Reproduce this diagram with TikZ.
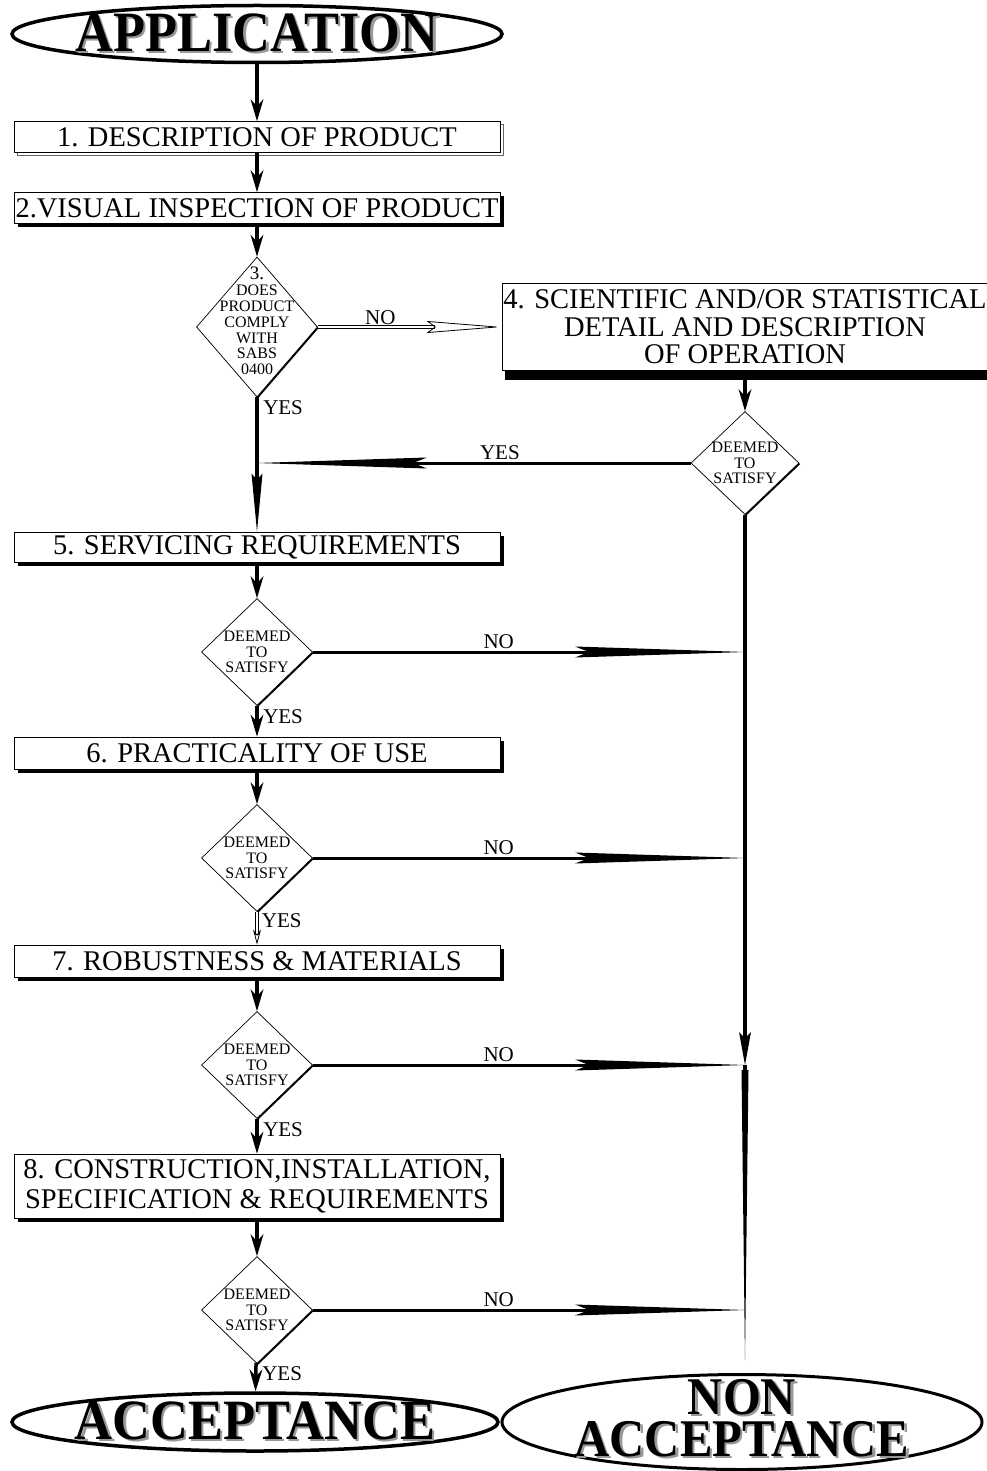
\documentclass[tikz,border=0pt]{standalone}
\usepackage{fontspec}
\setmainfont{Liberation Serif}
\usetikzlibrary{shapes.geometric,arrows.meta,shadows}
\newcommand{\shtxt}[1]{\rlap{\hspace{2.5pt}\raisebox{-2.5pt}{\color{black!40}#1}}#1}
\newcommand{\bigtxt}[1]{\scalebox{0.92}[1]{\shtxt{#1}}}

\begin{document}
\begin{tikzpicture}[x=1pt, y=-1pt,
  box/.style = {shape=rectangle, draw, line width=0.8pt, fill=white,
    align=center, inner sep=0pt, minimum width=486pt,
    font=\fontsize{28.5}{28.5}\selectfont},
  blackshadow/.style = {drop shadow={shadow xshift=4pt, shadow yshift=-4pt,
    fill=black, opacity=1}},
  dmd/.style = {shape=diamond, draw, fill=white, line width=0.7pt,
    inner sep=0pt, drop shadow={shadow xshift=1.2pt, shadow yshift=-1.2pt,
    fill=black, opacity=1}},
  dtxt/.style = {align=center, inner sep=0pt, font=\fontsize{16}{15.8}\selectfont},
  oval/.style = {shape=ellipse, draw, line width=3.5pt, fill=white, inner sep=0pt},
  otxt/.style = {align=center, inner sep=0pt, font=\fontsize{57}{38}\selectfont\bfseries},
  lbl/.style = {inner sep=1.5pt, font=\fontsize{21}{21}\selectfont},
  yeslbl/.style = {lbl, pos=0, anchor=north west, xshift=3pt}]
  \tikzstyle{arr}=[line width=3.5pt, -{Stealth[length=22pt, width=13pt, line width=0pt]}]
  \tikzstyle{midarr}=[line width=3.5pt,
    -{Stealth[length=58pt, width=11pt, inset=6pt, line width=0pt]}]
  \tikzstyle{longarr}=[line width=3pt,
    -{Stealth[length=170pt, width=11pt, inset=14pt, line width=0pt]}]
  \tikzstyle{trunkarr}=[line width=4pt,
    -{Stealth[length=33pt, width=12pt, inset=6pt, line width=0pt]}]
  \tikzstyle{taper}=[line width=4pt,
    -{Stealth[length=290pt, width=7pt, inset=0pt, line width=0pt]}]
  \tikzstyle{dblarr}=[line width=0.9pt, double distance=1.8pt,
    -{Stealth[open, length=75pt, width=12pt, inset=8pt, line width=0.8pt]}]
  \tikzstyle{dblsmall}=[line width=0.9pt, double distance=1.8pt,
    -{Stealth[open, length=15pt, width=8pt, line width=0.8pt]}]
  \useasboundingbox (0,0) rectangle (986,1471);
  \node[oval, minimum width=490pt, minimum height=57pt,
    label={[otxt]center:\bigtxt{APPLICATION}}] (app) at (257,34) {};
  \node[box, minimum height=31pt, drop shadow={shadow xshift=3pt,
    shadow yshift=-3pt, fill=white, draw=black!60, line width=0.6pt,
    opacity=1}] (descr) at (257,137) {1. DESCRIPTION OF PRODUCT};
  \node[box, blackshadow, minimum height=31pt] (visual) at (257,208)
    {2.VISUAL INSPECTION OF PRODUCT};
  \node[dmd, minimum width=121pt, minimum height=140pt,
    label={[dtxt, yshift=6pt]center:{\fontsize{19}{18}\selectfont 3.}\\DOES\\PRODUCT\\COMPLY\\WITH\\SABS\\0400}]
    (comply) at (257,327) {};
  \node[box, minimum height=87pt, font=\fontsize{28.5}{27.5}\selectfont,
    drop shadow={shadow xshift=3pt, shadow yshift=-9pt, fill=black, opacity=1}]
    (sci) at (745,327) {4. SCIENTIFIC AND/OR STATISTICAL\\DETAIL AND DESCRIPTION\\OF OPERATION};
  \node[dmd, minimum width=108pt, minimum height=103pt,
    label={[dtxt]center:DEEMED\\TO\\SATISFY}] (deem4) at (745,463) {};
  \node[box, blackshadow, minimum height=30pt] (serv) at (257,547)
    {5. SERVICING REQUIREMENTS};
  \node[dmd, minimum width=111pt, minimum height=107pt,
    label={[dtxt]center:DEEMED\\TO\\SATISFY}] (deem5) at (257,652) {};
  \node[box, blackshadow, minimum height=32pt] (pract) at (257,753)
    {6. PRACTICALITY OF USE};
  \node[dmd, minimum width=111pt, minimum height=107pt,
    label={[dtxt]center:DEEMED\\TO\\SATISFY}] (deem6) at (257,858) {};
  \node[box, blackshadow, minimum height=32pt] (robust) at (257,961)
    {7. ROBUSTNESS \& MATERIALS};
  \node[dmd, minimum width=111pt, minimum height=107pt,
    label={[dtxt]center:DEEMED\\TO\\SATISFY}] (deem7) at (257,1065) {};
  \node[box, blackshadow, minimum height=64pt, font=\fontsize{28.5}{30}\selectfont]
    (constr) at (257,1186) {8. CONSTRUCTION,INSTALLATION,\\SPECIFICATION \& REQUIREMENTS};
  \node[dmd, minimum width=111pt, minimum height=107pt,
    label={[dtxt]center:DEEMED\\TO\\SATISFY}] (deem8) at (257,1310) {};
  \node[oval, minimum width=486pt, minimum height=58pt,
    label={[otxt]center:\bigtxt{ACCEPTANCE}}] (acc) at (255,1422) {};
  \node[oval, line width=3pt, minimum width=480pt, minimum height=95pt,
    label={[otxt, font=\fontsize{53}{42}\selectfont\bfseries, yshift=3pt]center:\bigtxt{NON}\\\bigtxt{ACCEPTANCE}}]
    (nonacc) at (742,1422) {};
  \coordinate (tend) at (745,1360);
  \draw[arr] (app) -- (descr);
  \draw[arr] (descr) -- (visual);
  \draw[arr] (visual) -- (comply);
  \draw[dblarr] (comply) -- node[lbl, above, pos=.34] {NO} (sci);
  \draw[midarr] (comply) -- node[yeslbl] {YES} (serv);
  \draw[arr] (sci) -- (deem4);
  \draw[longarr] (deem4) -- node[lbl, above, pos=.44] {YES} (comply |- deem4);
  \draw[trunkarr] (deem4) -- (deem4 |- deem7);
  \draw[taper] (deem4 |- deem7) -- (tend);
  \draw[arr] (serv) -- (deem5);
  \draw[longarr] (deem5) -- node[lbl, above, pos=.43] {NO} (deem4 |- deem5);
  \draw[arr] (deem5) -- node[yeslbl] {YES} (pract);
  \draw[arr] (pract) -- (deem6);
  \draw[longarr] (deem6) -- node[lbl, above, pos=.43] {NO} (deem4 |- deem6);
  \draw[dblsmall] (deem6) -- node[yeslbl] {YES} (robust);
  \draw[arr] (robust) -- (deem7);
  \draw[longarr] (deem7) -- node[lbl, above, pos=.43] {NO} (deem4 |- deem7);
  \draw[arr] (deem7) -- node[yeslbl] {YES} (constr);
  \draw[arr] (constr) -- (deem8);
  \draw[longarr] (deem8) -- node[lbl, above, pos=.43] {NO} (deem4 |- deem8);
  \draw[arr] (deem8) -- node[yeslbl] {YES} (acc);
\end{tikzpicture}
\end{document}
